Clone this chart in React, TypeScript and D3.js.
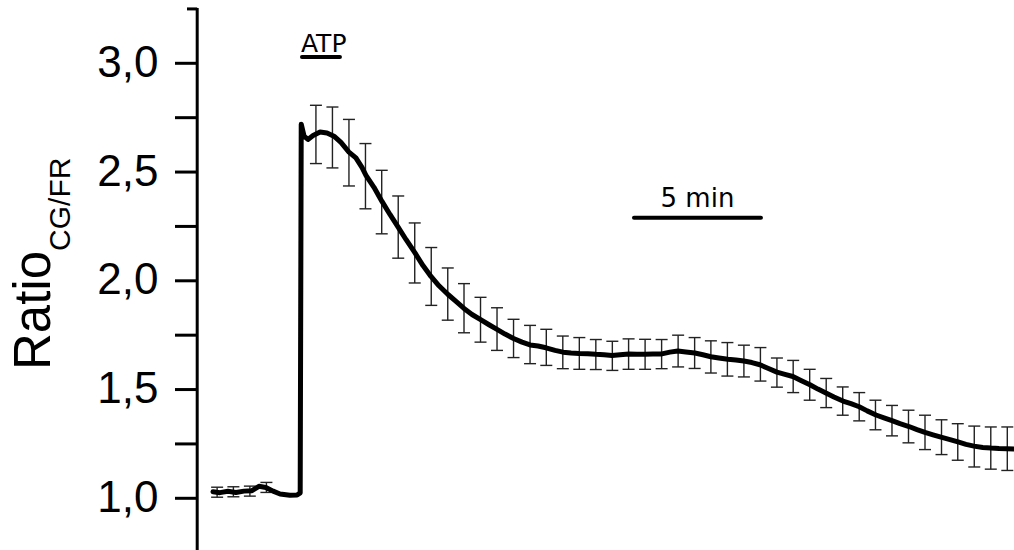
import React from "react";
import * as d3 from "d3";

// ---- axis ticks ----
const yTickValues = [1.0, 1.5, 2.0, 2.5, 3.0];
const yTickLabels = ["1,0", "1,5", "2,0", "2,5", "3,0"];
const yMinorTicks = [1.25, 1.75, 2.25, 2.75];
const yAxisTop = 3.25;

// ---- mean trace (time in minutes, ratio) ----
const traceTime = [
  0.0, 0.27, 0.58, 0.89, 1.2, 1.51, 1.78, 2.05, 2.33, 2.6, 2.98, 3.26, 3.38,
  3.42, 3.53, 3.68, 3.88, 4.15, 4.42, 4.69, 4.96, 5.27, 5.54, 5.78, 5.93, 6.24,
  6.55, 6.86, 7.17, 7.48, 7.83, 8.14, 8.45, 8.76, 9.11, 9.42, 9.73, 10.04,
  10.39, 10.7, 11.01, 11.32, 11.65, 11.98, 12.29, 12.6, 12.91, 13.26, 13.57,
  13.88, 14.19, 14.53, 14.84, 15.16, 15.47, 15.78, 16.12, 16.43, 16.74, 17.05,
  17.4, 17.71, 18.02, 18.33, 18.68, 18.99, 19.3, 19.61, 19.96, 20.27, 20.58,
  20.89, 21.2, 21.51, 21.86, 22.17, 22.48, 22.79, 23.14, 23.45, 23.76, 24.07,
  24.42, 24.73, 25.05, 25.36, 25.7, 26.01, 26.32, 26.63, 26.98, 27.29, 27.6,
  27.91, 28.22, 28.57, 28.88, 29.19, 29.5, 29.84, 30.16, 30.47, 30.78, 31.05,
];
const traceRatio = [
  1.03, 1.026, 1.032, 1.027, 1.033, 1.035, 1.055, 1.05, 1.033, 1.02, 1.014,
  1.015, 1.025, 2.72, 2.665, 2.65, 2.668, 2.684, 2.68, 2.665, 2.636, 2.592,
  2.565, 2.52, 2.485, 2.43, 2.365, 2.305, 2.248, 2.19, 2.128, 2.07, 2.02,
  1.977, 1.937, 1.905, 1.873, 1.845, 1.82, 1.798, 1.777, 1.755, 1.735, 1.718,
  1.705, 1.7, 1.692, 1.68, 1.672, 1.668, 1.666, 1.665, 1.662, 1.66, 1.657,
  1.66, 1.663, 1.662, 1.662, 1.663, 1.664, 1.672, 1.677, 1.673, 1.668, 1.66,
  1.651, 1.645, 1.639, 1.636, 1.631, 1.624, 1.614, 1.598, 1.58, 1.57, 1.56,
  1.542, 1.522, 1.502, 1.484, 1.466, 1.447, 1.435, 1.421, 1.402, 1.383, 1.37,
  1.357, 1.343, 1.33, 1.316, 1.303, 1.292, 1.281, 1.27, 1.259, 1.248, 1.24,
  1.234, 1.231, 1.229, 1.228, 1.227,
];

// ---- error bars (time in minutes, mean, SEM) ----
const errTime = [
  0.16, 0.79, 1.43, 2.07,
  3.99, 4.63, 5.27, 5.91, 6.54, 7.18, 7.82, 8.46, 9.1, 9.73, 10.37, 11.01,
  11.65, 12.29, 12.92, 13.56, 14.2, 14.84, 15.48, 16.11, 16.75, 17.39, 18.03,
  18.67, 19.3, 19.94, 20.58, 21.22, 21.86, 22.49, 23.13, 23.77, 24.41, 25.05,
  25.68, 26.32, 26.96, 27.6, 28.24, 28.87, 29.51, 30.15, 30.79,
];
const errMean = [
  1.028, 1.03, 1.033, 1.05,
  2.673, 2.659, 2.589, 2.481, 2.362, 2.247, 2.128, 2.02, 1.939, 1.874, 1.821,
  1.778, 1.735, 1.707, 1.694, 1.671, 1.666, 1.661, 1.655, 1.663, 1.662, 1.663,
  1.677, 1.668, 1.65, 1.639, 1.631, 1.616, 1.578, 1.56, 1.522, 1.484, 1.447,
  1.421, 1.383, 1.357, 1.33, 1.303, 1.281, 1.259, 1.238, 1.231, 1.228,
];
const errSD = [
  0.023, 0.023, 0.023, 0.023,
  0.134, 0.14, 0.153, 0.15, 0.146, 0.143, 0.138, 0.133, 0.12, 0.113, 0.103,
  0.098, 0.088, 0.088, 0.083, 0.075, 0.073, 0.069, 0.067, 0.07, 0.069, 0.067,
  0.073, 0.071, 0.074, 0.077, 0.073, 0.077, 0.067, 0.074, 0.071, 0.067, 0.065,
  0.065, 0.068, 0.07, 0.075, 0.079, 0.08, 0.084, 0.094, 0.097, 0.1,
];

// ---- annotations ----
const atpLabel = "ATP";
const atpStart = 3.41;
const atpEnd = 4.96;
const scaleLabel = "5 min";
const scaleBarStart = 16.28;
const scaleBarLength = 5;

export default function App() {
  const W = 1014;
  const H = 550;
  const x = d3.scaleLinear().domain([0, 31.05]).range([213, 1014]);
  const y = d3.scaleLinear().domain([1, 3]).range([498.3, 63.3]);
  const axisX = 197.2;

  const pts: [number, number][] = traceTime.map((t, i) => [t, traceRatio[i]]);
  const line = d3
    .line<[number, number]>()
    .x((d) => x(d[0]))
    .y((d) => y(d[1]))
    .curve(d3.curveLinear);
  const pathD = line(pts) || "";

  const sans = "'Liberation Sans', Arial, sans-serif";
  const dv = "'DejaVu Sans', Verdana, sans-serif";

  return (
    <div style={{ position: "fixed", left: 0, top: 0, width: W, height: H, background: "#fff" }}>
      <svg width={W} height={H} style={{ display: "block" }}>
        <rect x={0} y={0} width={W} height={H} fill="#fff" />
        {/* y axis */}
        <line x1={axisX} x2={axisX} y1={y(yAxisTop) - 1} y2={H} stroke="#000" strokeWidth={3} />
        <line x1={187} x2={axisX} y1={y(yAxisTop)} y2={y(yAxisTop)} stroke="#000" strokeWidth={3} />
        {yTickValues.map((v, i) => (
          <g key={"t" + i}>
            <line x1={175} x2={axisX} y1={y(v)} y2={y(v)} stroke="#000" strokeWidth={3} />
            <text x={158.5} y={y(v) + 13.5} fontFamily={sans} fontSize={44} textAnchor="end" fill="#000">
              {yTickLabels[i]}
            </text>
          </g>
        ))}
        {yMinorTicks.map((v, i) => (
          <line key={"m" + i} x1={175} x2={axisX} y1={y(v)} y2={y(v)} stroke="#000" strokeWidth={3} />
        ))}
        {/* y label */}
        <text transform="rotate(-90)" x={-370} y={50} fontFamily={sans} fontSize={51} fill="#000">
          Ratio
          <tspan fontSize={30} dy={20}>CG/FR</tspan>
        </text>

        {/* error bars */}
        {errTime.map((t, i) => {
          const cx = x(t);
          const y1 = y(errMean[i] + errSD[i]);
          const y2 = y(errMean[i] - errSD[i]);
          return (
            <g key={"e" + i} stroke="#222" strokeWidth={1.4}>
              <line x1={cx} x2={cx} y1={y1} y2={y2} />
              <line x1={cx - 6} x2={cx + 6} y1={y1} y2={y1} />
              <line x1={cx - 6} x2={cx + 6} y1={y2} y2={y2} />
            </g>
          );
        })}

        {/* mean trace */}
        <path d={pathD} fill="none" stroke="#000" strokeWidth={5} strokeLinejoin="round" strokeLinecap="round" />

        {/* ATP bar */}
        <text x={x(atpStart)} y={52} fontFamily={dv} fontSize={25} fill="#000">
          {atpLabel}
        </text>
        <line x1={x(atpStart) + 1} x2={x(atpEnd) - 1} y1={57} y2={57} stroke="#000" strokeWidth={4} strokeLinecap="round" />

        {/* scale bar */}
        <text
          x={(x(scaleBarStart) + x(scaleBarStart + scaleBarLength)) / 2}
          y={206.7}
          fontFamily={dv}
          fontSize={26}
          textAnchor="middle"
          fill="#000"
        >
          {scaleLabel}
        </text>
        <line
          x1={x(scaleBarStart) + 1}
          x2={x(scaleBarStart + scaleBarLength) - 1}
          y1={217.7}
          y2={217.7}
          stroke="#000"
          strokeWidth={4}
          strokeLinecap="round"
        />
      </svg>
    </div>
  );
}
